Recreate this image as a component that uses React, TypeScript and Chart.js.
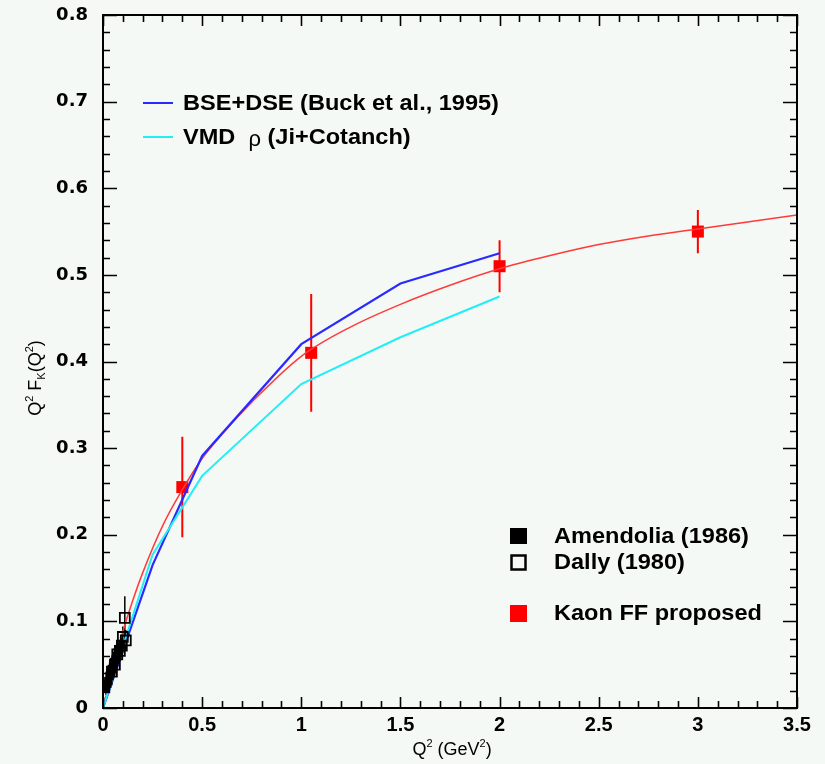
import React, { useEffect, useRef } from 'react';
import { Chart, registerables } from 'chart.js';
Chart.register(...registerables);

// ---------- data ----------
const xTickValues = [0, 0.5, 1, 1.5, 2, 2.5, 3, 3.5];
const xTickLabels = ['0', '0.5', '1', '1.5', '2', '2.5', '3', '3.5'];
const yTickValues = [0, 0.1, 0.2, 0.3, 0.4, 0.5, 0.6, 0.7, 0.8];
const yTickLabels = ['0', '0.1', '0.2', '0.3', '0.4', '0.5', '0.6', '0.7', '0.8'];
const xMinorStep = 0.1;
const yMinorStep = 0.02;

// Kaon FF proposed (red squares with error bars)
const kaonQ2 = [0.4, 1.05, 2.0, 3.0];
const kaonFF = [0.255, 0.41, 0.51, 0.55];
const kaonErr = [0.058, 0.068, 0.03, 0.025];

// Red fit curve
const fitQ2 = [0, 0.05, 0.1, 0.15, 0.2, 0.3, 0.4, 0.5, 0.6, 0.75, 1.0, 1.25, 1.5, 1.75, 2.0, 2.25, 2.5, 2.75, 3.0, 3.25, 3.5];
const fitFF = [0, 0.046, 0.088, 0.124, 0.156, 0.21, 0.252, 0.288, 0.316, 0.353, 0.406, 0.44, 0.466, 0.488, 0.507, 0.522, 0.535, 0.545, 0.553, 0.561, 0.569];

// BSE+DSE (Buck et al., 1995)
const bseQ2 = [0, 0.25, 0.5, 1.0, 1.5, 2.0];
const bseFF = [0, 0.165, 0.291, 0.42, 0.49, 0.525];

// VMD rho (Ji+Cotanch)
const vmdQ2 = [0, 0.25, 0.5, 1.0, 1.5, 2.0];
const vmdFF = [0, 0.177, 0.268, 0.374, 0.428, 0.475];

// Amendolia (1986) - filled squares
const amenQ2 = [0.015, 0.021, 0.027, 0.033, 0.039, 0.045, 0.051, 0.057, 0.063, 0.069, 0.075, 0.081, 0.089];
const amenFF = [0.022, 0.028, 0.031, 0.037, 0.041, 0.045, 0.048, 0.053, 0.056, 0.06, 0.064, 0.068, 0.073];
const amenErr = [0.007, 0.007, 0.007, 0.007, 0.007, 0.007, 0.008, 0.008, 0.008, 0.008, 0.009, 0.009, 0.009];

// Dally (1980) - open squares
const dallyQ2 = [0.045, 0.06, 0.072, 0.085, 0.095, 0.1, 0.11, 0.115];
const dallyFF = [0.042, 0.05, 0.062, 0.066, 0.072, 0.082, 0.104, 0.078];
const dallyErr = [0.01, 0.01, 0.012, 0.012, 0.012, 0.012, 0.025, 0.012];

// ---------- styles ----------
const BG = '#f5f9f5';
const FONT = "'Liberation Sans', Arial, Helvetica, sans-serif";
const YFONT = "'DejaVu Sans', 'Liberation Sans', sans-serif";
const RED = '#ff0000';
const RED_CURVE = '#ff3a3a';
const BLUE = '#2a2aff';
const CYAN = '#22eef4';

const zip = (xs: number[], ys: number[]) => xs.map((x, i) => ({ x, y: ys[i] }));

type Part = { t: string; m?: 'sup' | 'sub' };
function drawRich(ctx: CanvasRenderingContext2D, parts: Part[], size: number, weight: string) {
  const small = Math.round(size * 0.62);
  const fontOf = (p: Part) => `${weight} ${p.m ? small : size}px ${FONT}`;
  let w = 0;
  for (const p of parts) { ctx.font = fontOf(p); w += ctx.measureText(p.t).width; }
  let x = -w / 2;
  ctx.textAlign = 'left';
  ctx.textBaseline = 'alphabetic';
  for (const p of parts) {
    ctx.font = fontOf(p);
    const dy = p.m === 'sup' ? -size * 0.42 : p.m === 'sub' ? size * 0.22 : 0;
    ctx.fillText(p.t, x, dy);
    x += ctx.measureText(p.t).width;
  }
}

function textScaled(ctx: CanvasRenderingContext2D, t: string, x: number, y: number, sx: number) {
  ctx.save();
  ctx.translate(x, y);
  ctx.scale(sx, 1);
  ctx.fillText(t, 0, 0);
  const w = ctx.measureText(t).width * sx;
  ctx.restore();
  return w;
}

const framePlugin = {
  id: 'frameTicks',
  afterDatasetsDraw(chart: any) {
    const { ctx, chartArea: a, scales } = chart;
    const xs = scales.x, ys = scales.y;
    ctx.save();
    ctx.strokeStyle = '#000';
    ctx.lineWidth = 2;
    ctx.strokeRect(a.left, a.top, a.right - a.left, a.bottom - a.top);
    ctx.lineWidth = 1.6;
    ctx.beginPath();
    const nx = Math.round((xs.max - xs.min) / xMinorStep);
    for (let i = 0; i <= nx; i++) {
      const v = xs.min + i * xMinorStep;
      const major = xTickValues.some((t) => Math.abs(t - v) < 1e-6);
      const px = Math.round(xs.getPixelForValue(v)) + 0.5;
      const l = major ? 11 : 7;
      ctx.moveTo(px, a.bottom); ctx.lineTo(px, a.bottom - l);
      ctx.moveTo(px, a.top); ctx.lineTo(px, a.top + l);
    }
    const ny = Math.round((ys.max - ys.min) / yMinorStep);
    for (let i = 0; i <= ny; i++) {
      const v = ys.min + i * yMinorStep;
      const major = yTickValues.some((t) => Math.abs(t - v) < 1e-6);
      const py = Math.round(ys.getPixelForValue(v)) + 0.5;
      const l = major ? 14 : 7;
      ctx.moveTo(a.left, py); ctx.lineTo(a.left + l, py);
      ctx.moveTo(a.right, py); ctx.lineTo(a.right - l, py);
    }
    ctx.stroke();
    ctx.restore();
  },
};

const errorBarPlugin = {
  id: 'errorBars',
  beforeDatasetsDraw(chart: any) {
    const { ctx, scales } = chart;
    const xs = scales.x, ys = scales.y;
    const draw = (qs: number[], fs: number[], es: number[], color: string, lw: number) => {
      ctx.save();
      ctx.strokeStyle = color;
      ctx.lineWidth = lw;
      ctx.beginPath();
      qs.forEach((q, i) => {
        const px = xs.getPixelForValue(q);
        ctx.moveTo(px, ys.getPixelForValue(fs[i] - es[i]));
        ctx.lineTo(px, ys.getPixelForValue(fs[i] + es[i]));
      });
      ctx.stroke();
      ctx.restore();
    };
    draw(amenQ2, amenFF, amenErr, '#000', 1.5);
    draw(dallyQ2, dallyFF, dallyErr, '#000', 1.5);
    draw(kaonQ2, kaonFF, kaonErr, RED, 2);
  },
};

const legendPlugin = {
  id: 'customLegend',
  afterDraw(chart: any) {
    const { ctx } = chart;
    const SX = 1.07;
    ctx.save();
    ctx.textBaseline = 'middle';
    ctx.textAlign = 'left';
    // line legend
    ctx.lineWidth = 2;
    ctx.strokeStyle = BLUE;
    ctx.beginPath(); ctx.moveTo(143, 103); ctx.lineTo(173, 103); ctx.stroke();
    ctx.strokeStyle = CYAN;
    ctx.beginPath(); ctx.moveTo(143, 137); ctx.lineTo(173, 137); ctx.stroke();
    ctx.fillStyle = '#000';
    ctx.font = `bold 22px ${FONT}`;
    textScaled(ctx, 'BSE+DSE (Buck et al., 1995)', 183, 104, SX);
    let x = 183 + textScaled(ctx, 'VMD  ', 183, 138, SX);
    ctx.font = `22px ${FONT}`;
    x += textScaled(ctx, 'ρ', x, 140, 1);
    ctx.font = `bold 22px ${FONT}`;
    textScaled(ctx, ' (Ji+Cotanch)', x, 138, SX);

    // marker legend
    ctx.fillStyle = '#000';
    ctx.fillRect(510, 528, 17, 16);
    ctx.lineWidth = 2.5;
    ctx.strokeStyle = '#000';
    ctx.strokeRect(511.5, 555.5, 14, 14);
    ctx.fillStyle = RED;
    ctx.fillRect(510, 605, 17, 17);
    ctx.fillStyle = '#000';
    ctx.font = `bold 22px ${FONT}`;
    textScaled(ctx, 'Amendolia (1986)', 554, 537, SX);
    textScaled(ctx, 'Dally (1980)', 554, 563, SX);
    textScaled(ctx, 'Kaon FF proposed', 554, 614, SX);

    // axis titles
    ctx.fillStyle = '#000';
    ctx.save();
    ctx.translate(452, 755);
    drawRich(ctx, [{ t: 'Q' }, { t: '2', m: 'sup' }, { t: ' (GeV' }, { t: '2', m: 'sup' }, { t: ')' }], 18, 'normal');
    ctx.restore();
    ctx.save();
    ctx.translate(41, 378);
    ctx.rotate(-Math.PI / 2);
    drawRich(ctx, [{ t: 'Q' }, { t: '2', m: 'sup' }, { t: ' F' }, { t: 'K', m: 'sub' }, { t: '(Q' }, { t: '2', m: 'sup' }, { t: ')' }], 18, 'normal');
    ctx.restore();
    ctx.restore();
  },
};

export default function App() {
  const ref = useRef<HTMLCanvasElement>(null);
  useEffect(() => {
    const chart = new Chart(ref.current!, {
      type: 'scatter',
      data: {
        datasets: [
          {
            label: 'Amendolia (1986)',
            data: zip(amenQ2, amenFF),
            pointStyle: 'rect',
            pointRadius: 6,
            backgroundColor: '#000',
            borderColor: '#000',
            borderWidth: 0,
          },
          {
            label: 'Dally (1980)',
            data: zip(dallyQ2, dallyFF),
            pointStyle: 'rect',
            pointRadius: 7,
            backgroundColor: 'rgba(0,0,0,0)',
            borderColor: '#000',
            borderWidth: 1.8,
          },
          {
            label: 'VMD ρ (Ji+Cotanch)',
            data: zip(vmdQ2, vmdFF),
            showLine: true,
            pointRadius: 0,
            borderColor: CYAN,
            borderWidth: 2,
            tension: 0,
          },
          {
            label: 'BSE+DSE (Buck et al., 1995)',
            data: zip(bseQ2, bseFF),
            showLine: true,
            pointRadius: 0,
            borderColor: BLUE,
            borderWidth: 2.2,
            tension: 0,
          },
          {
            label: 'fit',
            data: zip(fitQ2, fitFF),
            showLine: true,
            pointRadius: 0,
            borderColor: RED_CURVE,
            borderWidth: 1.5,
            cubicInterpolationMode: 'monotone',
          },
          {
            label: 'Kaon FF proposed',
            data: zip(kaonQ2, kaonFF),
            pointStyle: 'rect',
            pointRadius: 8.5,
            backgroundColor: RED,
            borderColor: RED,
            borderWidth: 0,
          },
        ],
      } as any,
      options: {
        responsive: false,
        animation: false,
        layout: { padding: { top: 15, right: 28, left: 0, bottom: 0 } },
        plugins: { legend: { display: false }, tooltip: { enabled: false } },
        scales: {
          x: {
            type: 'linear',
            min: 0,
            max: 3.5,
            afterBuildTicks: (s: any) => { s.ticks = xTickValues.map((v) => ({ value: v })); },
            afterFit: (s: any) => { s.height = 56; s.paddingLeft = 0; s.paddingRight = 0; },
            ticks: {
              autoSkip: false,
              maxRotation: 0,
              padding: 5,
              color: '#000',
              font: { family: FONT, size: 20, weight: 'bold' },
              callback: (_v: any, i: number) => xTickLabels[i],
            },
            grid: { display: false, drawTicks: false },
            border: { display: false },
          },
          y: {
            type: 'linear',
            min: 0,
            max: 0.8,
            afterBuildTicks: (s: any) => { s.ticks = yTickValues.map((v) => ({ value: v })); },
            afterFit: (s: any) => { s.width = 103; s.paddingTop = 0; s.paddingBottom = 0; },
            ticks: {
              autoSkip: false,
              padding: 15,
              color: '#000',
              font: { family: YFONT, size: 18, weight: 'bold' },
              callback: (_v: any, i: number) => yTickLabels[i],
            },
            grid: { display: false, drawTicks: false },
            border: { display: false },
          },
        },
      } as any,
      plugins: [errorBarPlugin, framePlugin, legendPlugin],
    });
    return () => chart.destroy();
  }, []);
  return (
    <div style={{ position: 'fixed', left: 0, top: 0, width: 825, height: 764, background: BG }}>
      <canvas ref={ref} width={825} height={764} style={{ display: 'block' }} />
    </div>
  );
}
